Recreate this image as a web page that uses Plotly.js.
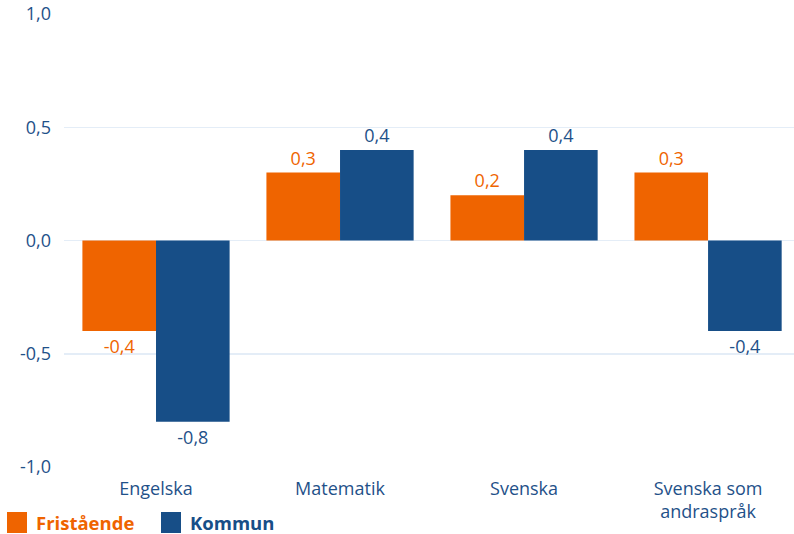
<!DOCTYPE html>
<html>
<head>
<meta charset="utf-8">
<script src="https://cdn.plot.ly/plotly-3.0.1.min.js"></script>
<style>html,body{margin:0;padding:0;background:#fff;}#chart{width:794px;height:534px;}</style>
</head>
<body>
<div id="chart"></div>
<script>
const categories = ['Engelska', 'Matematik', 'Svenska', 'Svenska som<br>andraspråk'];
const fristaende = [-0.4, 0.3, 0.2, 0.3];
const kommun = [-0.8, 0.4, 0.4, -0.4];
const seriesNames = ['Fristående', 'Kommun'];
const tickVals = [-1, -0.5, 0, 0.5, 1];
const tickText = ['-1,0', '-0,5', '0,0', '0,5', '1,0'];

const fmt = v => v.toFixed(1).replace('.', ',');

const orange = '#ef6400';
const blue = '#174e87';
const textBlue = '#1f5189';
const font = 'Open Sans, sans-serif';

const traces = [
  {type: 'bar', name: seriesNames[0], x: categories, y: fristaende, marker: {color: orange},
   text: fristaende.map(fmt), texttemplate: '%{text}', textposition: 'outside', textfont: {color: orange, size: 18, family: font},
   cliponaxis: false, hoverinfo: 'none'},
  {type: 'bar', name: seriesNames[1], x: categories, y: kommun, marker: {color: blue},
   text: kommun.map(fmt), texttemplate: '%{text}', textposition: 'outside', textfont: {color: textBlue, size: 18, family: font},
   cliponaxis: false, hoverinfo: 'none'}
];

const layout = {
  width: 794, height: 534,
  margin: {l: 64, r: 0, t: 14, b: 67},
  barmode: 'group', bargap: 0.2, bargroupgap: 0,
  showlegend: false,
  paper_bgcolor: '#fff', plot_bgcolor: '#fff',
  font: {family: font, color: textBlue, size: 18},
  xaxis: {type: 'category', range: [-0.5, 3.467], showgrid: false, zeroline: false, showline: false,
          ticks: '', ticklabelstandoff: 9, tickfont: {size: 18, color: textBlue, family: font}},
  yaxis: {range: [-1, 1], tickvals: tickVals, ticktext: tickText, showgrid: true, gridcolor: '#e4edf7', gridwidth: 1.5,
          zeroline: true, zerolinecolor: '#e4edf7', zerolinewidth: 1.5, showline: false, ticks: '',
          ticklabelstandoff: 12, tickfont: {size: 18, color: textBlue, family: font}},
  shapes: [
    {type: 'rect', xref: 'paper', yref: 'paper', x0: -57/730, x1: -37/730, y0: -66/453, y1: -45/453,
     fillcolor: orange, line: {width: 0}},
    {type: 'rect', xref: 'paper', yref: 'paper', x0: 97/730, x1: 117/730, y0: -66/453, y1: -45/453,
     fillcolor: blue, line: {width: 0}}
  ],
  annotations: [
    {xref: 'paper', yref: 'paper', x: -30/730, y: -55.5/453, xanchor: 'left', yanchor: 'middle', showarrow: false,
     text: '<b>' + seriesNames[0] + '</b>', font: {family: font, size: 18.5, color: orange}},
    {xref: 'paper', yref: 'paper', x: 124/730, y: -55.5/453, xanchor: 'left', yanchor: 'middle', showarrow: false,
     text: '<b>' + seriesNames[1] + '</b>', font: {family: font, size: 18.5, color: blue}}
  ]
};

Plotly.newPlot('chart', traces, layout, {staticPlot: true, displayModeBar: false});
</script>
</body>
</html>
